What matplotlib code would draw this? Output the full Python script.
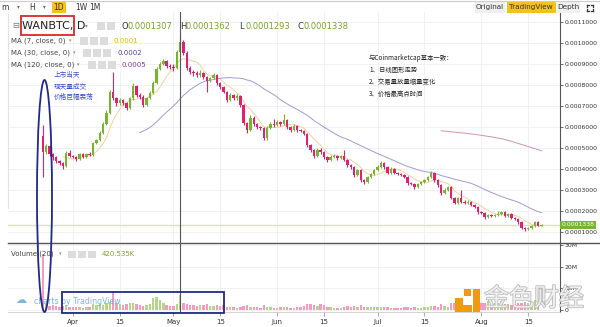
import matplotlib
matplotlib.use('Agg')
import matplotlib.pyplot as plt
import numpy as np
import pandas as pd
from matplotlib.patches import Rectangle, Ellipse
from matplotlib.lines import Line2D
from matplotlib.ticker import FuncFormatter
import matplotlib.patheffects as pe

plt.rcParams['font.family'] = ['DejaVu Sans', 'Noto Sans CJK SC']
CJK = ['Noto Sans CJK SC', 'DejaVu Sans']

# ---------------- data (prices in micro-BTC, volume in millions) ----------------
first_open = 557
closes = [481, 510, 471, 457, 438, 429, 414, 476, 462, 457,
          448, 471, 457, 471, 467, 524, 538, 571, 614, 667,
          767, 738, 714, 729, 714, 690, 738, 795, 752, 743,
          705, 738, 762, 810, 876, 900, 914, 890, 886, 881,
          957, 1005, 952, 881, 862, 857, 848, 857, 838, 819,
          833, 848, 810, 790, 767, 729, 752, 738, 748, 705,
          619, 586, 643, 614, 600, 595, 548, 595, 614, 610,
          624, 614, 633, 600, 586, 605, 586, 581, 567, 514,
          490, 462, 490, 481, 457, 443, 457, 462, 452, 462,
          443, 419, 410, 371, 395, 348, 338, 362, 376, 395,
          410, 429, 410, 381, 400, 381, 376, 371, 362, 333,
          329, 314, 329, 338, 348, 362, 381, 348, 324, 286,
          300, 314, 262, 238, 262, 243, 238, 243, 229, 219,
          195, 190, 171, 181, 176, 181, 186, 195, 176, 186,
          167, 162, 148, 119, 114, 119, 128, 148, 130.7, 133.8]
highs = [610, 520, 515, 478, 462, 445, 433, 485, 490, 468,
         462, 478, 476, 476, 480, 530, 545, 580, 625, 680,
         775, 860, 745, 740, 735, 720, 745, 810, 800, 760,
         750, 745, 770, 818, 885, 910, 925, 920, 898, 900,
         965, 1048, 1015, 960, 890, 870, 865, 870, 862, 845,
         840, 855, 852, 815, 795, 770, 760, 758, 755, 752,
         710, 625, 655, 650, 620, 606, 600, 605, 622, 640,
         632, 630, 660, 640, 605, 612, 610, 592, 588, 572,
         520, 495, 500, 500, 486, 462, 465, 470, 468, 468,
         490, 448, 425, 415, 402, 400, 352, 368, 382, 400,
         418, 440, 432, 415, 410, 405, 388, 382, 376, 366,
         340, 334, 335, 342, 352, 368, 392, 386, 352, 328,
         310, 320, 318, 266, 268, 300, 250, 250, 248, 234,
         224, 200, 195, 186, 185, 186, 200, 202, 198, 190,
         190, 172, 166, 152, 124, 125, 135, 152, 152, 136.2]
lows = [362, 470, 460, 445, 430, 420, 400, 410, 455, 450,
        440, 444, 452, 452, 460, 462, 518, 532, 565, 608,
        660, 730, 700, 705, 705, 680, 685, 730, 745, 735,
        695, 700, 732, 755, 805, 870, 895, 880, 875, 865,
        875, 950, 945, 870, 850, 845, 840, 840, 830, 766,
        812, 828, 800, 782, 760, 720, 722, 730, 730, 695,
        610, 571, 580, 605, 592, 585, 540, 540, 590, 602,
        605, 605, 610, 592, 578, 580, 578, 575, 560, 505,
        480, 450, 455, 470, 448, 435, 438, 450, 445, 446,
        436, 410, 402, 362, 365, 340, 330, 334, 356, 370,
        390, 405, 402, 375, 376, 375, 370, 365, 355, 325,
        322, 305, 310, 325, 334, 344, 358, 340, 315, 278,
        282, 295, 255, 232, 235, 238, 232, 234, 222, 212,
        188, 184, 160, 166, 170, 172, 178, 182, 170, 172,
        160, 156, 140, 112, 105, 110, 115, 125, 128, 129.3]
volumes = [25.5,
           3.0, 2.2, 2.5, 2.0,
           1.8, 2.0, 2.4, 1.6, 1.5, 1.8, 1.4, 1.3, 1.7, 1.5,
           2.8, 2.5, 3.0, 2.6, 3.4, 3.8,
           9.0,
           3.6, 3.0, 2.6, 2.8, 3.2, 3.6,
           2.8, 2.4, 2.2, 2.6, 3.0,
           5.8, 6.2, 4.6,
           3.2, 2.6, 2.2, 2.0, 2.8,
           7.0,
           3.2, 2.8, 2.4, 2.6, 2.2, 2.4, 2.6, 2.8, 2.2, 2.0, 2.4, 2.2, 2.6,
           1.8, 1.6, 1.4, 1.2, 1.5, 2.2, 2.6, 1.8, 1.6, 1.4, 1.2, 2.4, 1.8, 1.5, 1.3,
           1.2, 1.4, 1.6, 1.5, 1.3, 1.2, 1.4, 1.6, 2.2, 2.8, 3.0, 2.6, 2.2, 2.8, 2.4, 1.8,
           1.4, 1.2, 1.0, 1.1, 1.5, 2.0, 1.6, 2.2, 1.8, 2.4, 1.8, 1.6, 1.5, 1.4,
           1.6, 1.8, 1.4, 1.6, 1.3, 1.2, 1.1, 1.2, 1.4, 1.8, 1.3, 1.6, 1.2, 1.1, 1.4, 1.6,
           2.0, 2.2, 1.8, 2.8, 2.2, 1.8, 3.2, 3.4, 2.6, 2.4, 2.0, 1.8, 2.6, 2.4, 3.0,
           3.2, 3.6, 4.2, 3.8, 3.4, 3.6, 4.4, 3.0, 2.8, 2.6, 3.0, 3.4, 3.6, 4.0, 3.2, 3.8, 4.6, 3.2, 0.42]
date_ticks = [9, 23, 39, 53, 70, 84, 100, 114, 131, 145]   # day index from Mar 23
date_labels = ['Apr', '15', 'May', '15', 'Jun', '15', 'Jul', '15', 'Aug', '15']
price_ticks = [100, 200, 300, 400, 500, 600, 700, 800, 900, 1000, 1100]
vol_ticks = [0, 10, 20, 30]
vol_labels = ['0', '10M', '20M', '30M']
last_close = 133.8

# ---------------- figure ----------------
W, H = 600, 327
fig = plt.figure(figsize=(6, 3.27), dpi=100)


def fx(x):
    return x / W


def fy(y):
    return 1 - y / H


ax = fig.add_axes([fx(8), fy(243), fx(560) - fx(8), fy(12) - fy(243)])
axv = fig.add_axes([fx(8), fy(312), fx(560) - fx(8), fy(243) - fy(312)], sharex=ax)

UP, DN = '#76b52d', '#e0226c'
UPV, DNV = '#b5d68a', '#f59bc2'

n = len(closes)
days = np.arange(n)
opens = np.array([first_open] + closes[:-1], dtype=float)
c = np.array(closes, dtype=float)
up = c >= opens
cols = np.where(up, UP, DN)

ax.vlines(days, lows, highs, colors=cols, lw=0.8, zorder=3)
body_h = np.maximum(np.abs(c - opens), 2.5)
ax.bar(days, body_h, bottom=np.minimum(c, opens), width=0.72, color=cols, zorder=4, linewidth=0)

s = pd.Series(c)
ax.plot(days, s.rolling(7).mean(), color='#f4cf9c', lw=0.7, zorder=2)
ax.plot(days, s.rolling(30).mean(), color='#a09ad9', lw=0.7, zorder=2)
ax.plot(days, s.rolling(120).mean(), color='#cf93af', lw=0.7, zorder=2)
ax.axhline(last_close, color='#dfe3ad', lw=1.0, zorder=1)
ax.axvline(41, color='#555555', lw=0.8, zorder=5)
axv.axvline(41, color='#555555', lw=0.8, zorder=5)

axv.bar(days, volumes, width=0.72, color=np.where(up, UPV, DNV), zorder=3, linewidth=0)

ax.set_xlim(-10.4, 154.5)
ax.set_ylim(47.6, 1147.6)
axv.set_ylim(-0.7, 30.7)

for a in (ax, axv):
    a.set_facecolor('white')
    a.yaxis.tick_right()
    a.set_xticks(date_ticks)
    a.grid(True, color='#efefef', lw=0.6, zorder=0)
    a.set_axisbelow(True)
    for sp in ('top', 'left', 'bottom'):
        a.spines[sp].set_visible(False)
    a.spines['right'].set_color('#555555')
    a.spines['right'].set_linewidth(0.8)
    a.tick_params(axis='y', length=2.5, width=0.6, color='#555555', labelsize=4.4,
                  labelcolor='#333333', pad=1)

ax.set_yticks(price_ticks)
ax.yaxis.set_major_formatter(FuncFormatter(lambda v, p: f"{v / 1e6:.7f}"))
ax.tick_params(axis='x', length=0, labelbottom=False)
axv.set_yticks(vol_ticks)
axv.set_yticklabels(vol_labels)
axv.set_xticklabels(date_labels)
axv.tick_params(axis='x', length=3, width=0.6, color='#999999', labelsize=5,
                labelcolor='#333333', pad=2)
axv.spines['bottom'].set_visible(True)
axv.spines['bottom'].set_color('#cccccc')
axv.spines['bottom'].set_linewidth(0.6)

# last price label
ax.text(1.003, last_close, '0.0001338', transform=ax.get_yaxis_transform(), fontsize=4.4,
        color='white', va='center', ha='left', zorder=10,
        bbox=dict(boxstyle='square,pad=0.3', fc='#79b530', ec='none'))

# pane separator and borders
fig.add_artist(Line2D([fx(8), 1], [fy(243), fy(243)], color='#555555', lw=1.0))
fig.add_artist(Line2D([0, 1], [fy(0.5), fy(0.5)], color='#cccccc', lw=0.8))
fig.add_artist(Line2D([fx(8), fx(8)], [fy(14), fy(208)], color='#e2e2e2', lw=0.8))


# ---------------- toolbar ----------------
def ftxt(x, y, t, **kw):
    kw.setdefault('va', 'center')
    kw.setdefault('ha', 'left')
    return fig.text(fx(x), fy(y), t, **kw)


def box(x0, y0, x1, y1, **kw):
    r = Rectangle((fx(x0), fy(y1)), (x1 - x0) / W, (y1 - y0) / H, transform=fig.transFigure, **kw)
    fig.add_artist(r)
    return r


ftxt(1, 7, 'm', fontsize=5.5, color='#333333')
ftxt(17, 7, '▾', fontsize=4, color='#666666')
ftxt(29, 7, 'H', fontsize=5.5, color='#333333')
ftxt(43, 7, '▾', fontsize=4, color='#666666')
box(52, 2, 66, 13, fc='#f5c21b', ec='none')
ftxt(59, 7.5, '1D', fontsize=5.5, color='#333333', ha='center')
ftxt(81, 7.5, '1W', fontsize=5.5, color='#333333', ha='center')
ftxt(95, 7.5, '1M', fontsize=5.5, color='#333333', ha='center')

box(475, 2, 505, 13, fc='#efefef', ec='none')
ftxt(490, 7.5, 'Original', fontsize=5.2, color='#333333', ha='center')
box(507, 2, 556, 13, fc='#f5c21b', ec='none')
ftxt(531, 7.5, 'TradingView', fontsize=5.2, color='#333333', ha='center')
box(557, 2, 580, 13, fc='#efefef', ec='none')
ftxt(568, 7.5, 'Depth', fontsize=5.2, color='#333333', ha='center')
for dx, dy in [(-1, -1), (1, -1), (-1, 1), (1, 1)]:
    cx, cy = 590 + dx * 3, 7.5 + dy * 3
    fig.add_artist(Line2D([fx(cx), fx(cx - dx * 2)], [fy(cy), fy(cy)], color='#333333', lw=0.9))
    fig.add_artist(Line2D([fx(cx), fx(cx)], [fy(cy), fy(cy - dy * 2)], color='#333333', lw=0.9))


# ---------------- legend rows ----------------
def icons(x, y, k=3):
    for i in range(k):
        box(x + i * 10, y - 3.5, x + i * 10 + 8, y + 3.5, fc='#dcdcdc', ec='none')


ftxt(12, 26, '⊟', fontsize=6, color='#777777')
ftxt(22, 26, 'WANBTC, D', fontsize=8, color='#222222')
ftxt(85, 26, '▾', fontsize=4, color='#888888')
icons(97, 26, 2)
GRN = '#7aa52a'
for lab, xl, val in [('O', 122, '0.0001307'), ('H', 180, '0.0001362'),
                     ('L', 239, '0.0001293'), ('C', 297, '0.0001338')]:
    ftxt(xl, 26.5, lab, fontsize=6, color='#333333')
    ftxt(xl + 6, 26.5, val, fontsize=6, color=GRN)

for y, lab, xa, xi, xv, val, col in [(41, 'MA (7, close, 0)', 69, 80, 113, '0.0001', '#e3bd00'),
                                     (53, 'MA (30, close, 0)', 73, 83, 118, '0.0002', '#5b3d9c'),
                                     (65, 'MA (120, close, 0)', 77, 88, 122, '0.0005', '#8c3d8c')]:
    ftxt(11, y, lab, fontsize=5, color='#444444')
    ftxt(xa, y, '▾', fontsize=3.5, color='#888888')
    icons(xi, y)
    ftxt(xv, y, val, fontsize=5, color=col)

ftxt(11, 254, 'Volume (20)', fontsize=5, color='#444444')
ftxt(59, 254, '▾', fontsize=3.5, color='#888888')
icons(68, 254)
ftxt(102, 254, '420.535K', fontsize=5, color=GRN)

ftxt(15, 300, '☁', fontsize=8, color='#5aa6d6', alpha=0.8)
ftxt(34, 301, 'charts by TradingView', fontsize=5.6, color='#5aa6d6', alpha=0.8)

# ---------------- annotations ----------------
BLUE = '#3a4fc8'
for i, t in enumerate(['上市当天', '现天量成交', '价格巨幅震荡']):
    ftxt(54, 75 + i * 11, t, fontsize=4.8, color=BLUE, family=CJK)
for i, t in enumerate(['与Coinmarketcap基本一致：', '1、日线图形走势', '2、交易量放量缩量变化', '3、价格最高点时间']):
    ftxt(369, 58 + i * 12, t, fontsize=4.6, color='#222222', family=CJK)

fig.add_artist(Ellipse((fx(44.5), fy(196)), 15 / W, 232 / H, transform=fig.transFigure,
                       fill=False, ec='#1f2a8a', lw=1.3, zorder=20))
box(62, 292, 224, 313, fill=False, ec='#1f2a8a', lw=1.3, zorder=20)
box(21, 16, 74, 35, fill=False, ec='#d42a2a', lw=1.3, zorder=20)

# ---------------- watermark ----------------
ORG = '#f29a0f'
box(464, 289, 471, 296, fc=ORG, ec='none', zorder=21)
box(473, 289, 480, 312, fc=ORG, ec='none', zorder=21)
box(455, 298, 463, 305, fc=ORG, ec='none', zorder=21)
box(455, 305, 472, 312, fc=ORG, ec='none', zorder=21)
t = ftxt(484, 299, '金色财经', fontsize=18, color='#f4f4f4', family=CJK, zorder=21, alpha=0.9)
t.set_path_effects([pe.withStroke(linewidth=1.2, foreground='#b5b5b5')])

fig.savefig('out.png', dpi=100)
